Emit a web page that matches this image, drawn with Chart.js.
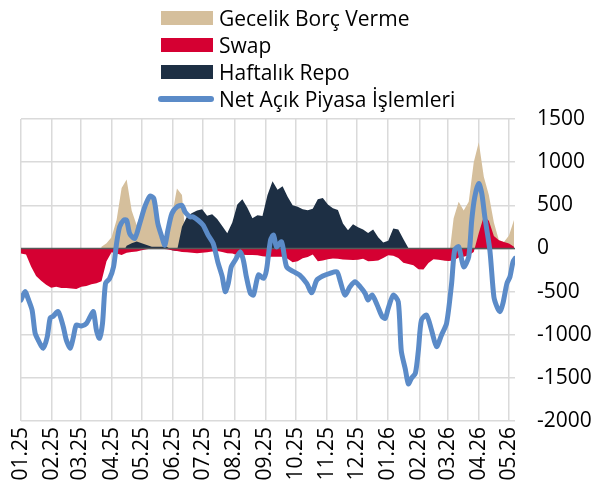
<!DOCTYPE html>
<html>
<head>
<meta charset="utf-8">
<script src="https://cdn.jsdelivr.net/npm/chart.js@4.4.1/dist/chart.umd.min.js"></script>
<style>
  html, body { margin: 0; padding: 0; background: #fff; }
  #wrap { position: relative; width: 595px; height: 498px; }
  #legend { position: absolute; left: 158px; top: 4px; font-family: 'Open Sans', sans-serif; font-size: 21px; color: #000; }
  .row { display: flex; align-items: center; height: 27px; white-space: nowrap; }
  .sw { width: 52px; height: 14px; margin-left: 3px; margin-right: 6px; }
  .ln { width: 56px; height: 6px; border-radius: 3px; margin-right: 5px; }
</style>
</head>
<body>
<div id="wrap">
  <canvas id="chart" width="595" height="498"></canvas>
  <div id="legend"></div>
</div>
<script>
Chart.defaults.font.family = "'Open Sans', sans-serif";
Chart.defaults.font.size = 21;
Chart.defaults.color = '#000';

const COLORS = {
    gecelik: '#D5BF9C',
    swap: '#D50032',
    repo: '#1D2F44',
    net: '#5B8BC8',
    grid: '#DADADA',
    zero: '#595959'
};

// x axis: days since 01.01.2025, month starts carry the tick labels
const monthStarts = [0, 31, 59, 90, 120, 151, 181, 212, 243, 273, 304, 334, 365, 396, 424, 455, 485];
const monthLabels = ['01.25', '02.25', '03.25', '04.25', '05.25', '06.25', '07.25', '08.25', '09.25',
                     '10.25', '11.25', '12.25', '01.26', '02.26', '03.26', '04.26', '05.26'];

// stacked areas, sampled every 5 days
const areaDays = [0, 5, 10, 15, 20, 25, 30, 35, 40, 45, 50, 55, 60, 65, 70, 75, 80, 85, 90, 95,
    100, 105, 110, 115, 120, 125, 130, 135, 140, 145, 150, 155, 160, 165, 170, 175, 180, 185, 190, 195,
    200, 205, 210, 215, 220, 225, 230, 235, 240, 245, 250, 255, 260, 265, 270, 275, 280, 285, 290, 295,
    300, 305, 310, 315, 320, 325, 330, 335, 340, 345, 350, 355, 360, 365, 370, 375, 380, 385, 390, 395,
    400, 405, 410, 415, 420, 425, 430, 435, 440, 445, 450, 455, 460, 465, 470, 475, 480, 485, 490];

const swapValues = [-58, -70, -210, -320, -375, -420, -455, -445, -460, -460, -465, -470, -445, -436, -415, -405, -380, -150, -45, -60,
    -75, -50, -40, -35, -20, -10, 0, 0, -5, -10, -20, -30, -40, -45, -50, -55, -50, -45, -35, -30,
    -40, -55, -60, -75, -72, -75, -77, -80, -90, -97, -97, -95, -95, -120, -160, -150, -115, -100, -70, -150,
    -140, -125, -116, -120, -127, -130, -135, -130, -120, -150, -145, -140, -110, -80, -85, -110, -165, -180, -195, -240,
    -245, -170, -125, -130, -140, -145, -140, -105, -95, -80, -40, 180, 370, 320, 145, 96, 75, 58, 20];

const repoValues = [null, null, null, null, null, null, null, null, null, null, null, null, null, null, null, null, null, null, null, null,
    0, 30, 60, 80, 60, 40, 20, 20, 20, 20, 0, 0, 250, 370, 410, 440, 455, 380, 395, 340,
    260, 175, 300, 510, 570, 470, 350, 385, 375, 620, 780, 680, 720, 600, 500, 482, 455, 443, 460, 570,
    585, 510, 465, 445, 290, 210, 280, 245, 220, 180, 220, 130, 70, 90, 230, 220, 110, 5, 0, null,
    null, null, null, null, null, null, null, null, null, null, null, null, null, null, null, null, null, null, null];

const gecelikValues = [null, null, null, null, null, null, null, null, null, null, null, null, null, null, null, 0, 20, 60, 130, 330,
    700, 770, 380, 190, 380, 480, 577, 420, 130, 40, 380, 694, 370, 0, null, null, null, null, null, null,
    null, null, null, null, null, null, null, null, null, null, null, null, null, null, null, null, null, null, null, null,
    null, null, null, null, null, null, null, null, null, null, null, null, null, null, null, null, null, null, null, null,
    null, null, null, null, 0, 0, 350, 540, 440, 540, 1000, 1050, 460, 300, 155, 0, 0, 92, 310];

// net open market operations line
const netDays = [0, 4, 7, 11, 14, 17, 22, 26, 29, 32, 37, 42, 45, 49, 52, 55, 60, 65, 69, 72,
    75, 78, 81, 84, 88, 92, 95, 98, 102, 105, 108, 113, 118, 123, 128, 132, 136, 140, 143, 146,
    150, 155, 160, 163, 168, 171, 176, 181, 186, 191, 196, 200, 203, 206, 209, 213, 218, 221, 224, 228,
    231, 236, 241, 244, 248, 251, 254, 259, 264, 271, 277, 284, 289, 294, 300, 307, 314, 317, 322, 327,
    332, 337, 342, 345, 349, 354, 359, 362, 365, 370, 375, 378, 382, 385, 388, 392, 395, 398, 403, 408,
    413, 418, 423, 428, 431, 435, 440, 445, 448, 451, 455, 458, 461, 466, 470, 473, 476, 479, 483, 486, 489, 491];

const netValues = [-598, -500, -580, -714, -980, -1060, -1157, -1030, -806, -785, -733, -907, -1060, -1157, -1030, -888, -900, -870, -785, -733,
    -950, -1041, -870, -405, -350, -213, 58, 250, 327, 327, 173, 116, 289, 481, 605, 578, 289, 134, 38, 212,
    405, 481, 500, 423, 366, 366, 327, 270, 154, 58, -174, -328, -500, -405, -213, -135, -39, -135, -328, -520,
    -540, -308, -347, -250, 96, 154, 19, 77, -213, -270, -309, -405, -513, -367, -320, -289, -270, -367, -540, -444,
    -386, -444, -521, -598, -540, -656, -791, -810, -694, -540, -620, -1190, -1400, -1570, -1505, -1446, -1177, -830, -772, -945,
    -1138, -1003, -868, -405, -20, 19, -213, -97, 327, 597, 752, 636, 366, -20, -560, -675, -733, -637, -405, -328, -155, -116];

const toPoints = (xs, ys) => xs.map((x, i) => ({ x: x, y: ys[i] }));

// zero line goes over the areas but under the net line
const zeroLine = {
    id: 'zeroLine',
    beforeDatasetDraw(chart, args) {
        if (args.index !== 0) return;
        const { ctx, chartArea, scales } = chart;
        const y = scales.y.getPixelForValue(0);
        ctx.save();
        ctx.strokeStyle = COLORS.zero;
        ctx.lineWidth = 1.5;
        ctx.beginPath();
        ctx.moveTo(chartArea.left, y);
        ctx.lineTo(chartArea.right, y);
        ctx.stroke();
        ctx.restore();
    }
};

const area = (label, values, color) => ({
    label: label,
    data: toPoints(areaDays, values),
    stack: 'ops',
    backgroundColor: color,
    borderColor: 'rgba(0,0,0,0)',
    borderWidth: 0,
    pointRadius: 0,
    fill: 'origin',
    tension: 0,
    spanGaps: false
});

const chart = new Chart(document.getElementById('chart'), {
    type: 'line',
    data: {
        datasets: [
            {
                label: 'Net Açık Piyasa İşlemleri',
                data: toPoints(netDays, netValues),
                stack: 'net',
                borderColor: COLORS.net,
                backgroundColor: COLORS.net,
                borderWidth: 5,
                borderCapStyle: 'round',
                borderJoinStyle: 'round',
                pointRadius: 0,
                tension: 0.25,
                fill: false
            },
            area('Swap', swapValues, COLORS.swap),
            area('Haftalık Repo', repoValues, COLORS.repo),
            area('Gecelik Borç Verme', gecelikValues, COLORS.gecelik)
        ]
    },
    options: {
        responsive: false,
        animation: false,
        layout: { padding: { top: 119, left: 21, right: 0, bottom: 0 } },
        plugins: { legend: { display: false }, tooltip: { enabled: false } },
        scales: {
            x: {
                type: 'linear',
                min: 0,
                max: 491,
                afterBuildTicks: s => { s.ticks = monthStarts.map(v => ({ value: v })); },
                afterFit: s => { s.height = 77; },
                ticks: {
                    autoSkip: false,
                    maxRotation: 90,
                    minRotation: 90,
                    padding: 6,
                    callback: v => monthLabels[monthStarts.indexOf(v)]
                },
                grid: { color: COLORS.grid, lineWidth: 1.5, drawTicks: false },
                border: { display: false }
            },
            y: {
                position: 'right',
                stacked: true,
                min: -2000,
                max: 1500,
                afterFit: s => { s.width = 80; },
                ticks: { stepSize: 500, padding: 22, callback: v => String(v) },
                grid: { color: COLORS.grid, lineWidth: 1.5, drawTicks: false },
                border: { display: false }
            }
        }
    },
    plugins: [zeroLine]
});

// legend in the reference order
const legendOrder = [3, 1, 2, 0];
const legendEl = document.getElementById('legend');
legendOrder.forEach(i => {
    const ds = chart.data.datasets[i];
    const row = document.createElement('div');
    row.className = 'row';
    const sw = document.createElement('span');
    if (i === 0) {
        sw.className = 'ln';
        sw.style.background = ds.borderColor;
    } else {
        sw.className = 'sw';
        sw.style.background = ds.backgroundColor;
    }
    const txt = document.createElement('span');
    txt.textContent = ds.label;
    row.appendChild(sw);
    row.appendChild(txt);
    legendEl.appendChild(row);
});
</script>
</body>
</html>
